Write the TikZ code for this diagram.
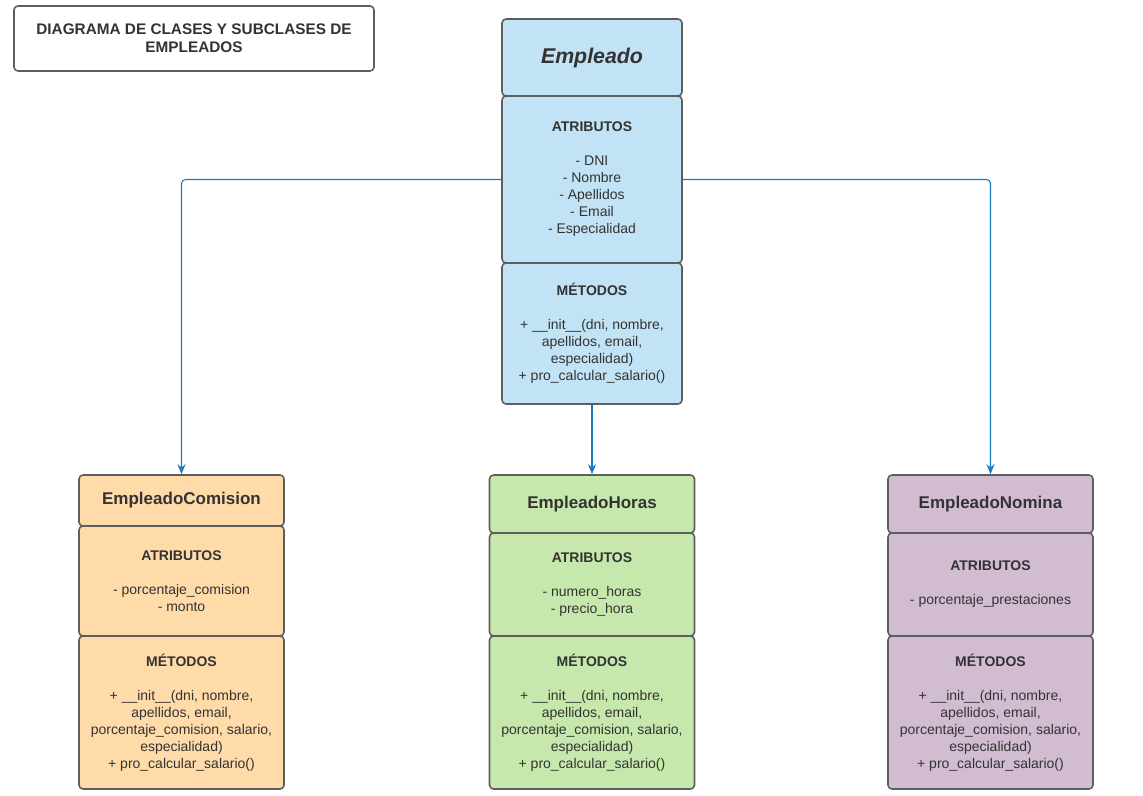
\documentclass[tikz,border=0pt]{standalone}
\usepackage{fontspec}
\setmainfont{Liberation Sans}
\usetikzlibrary{arrows.meta}
\definecolor{azul}{HTML}{C2E3F5}
\definecolor{naranja}{HTML}{FFDBA9}
\definecolor{verde}{HTML}{C7E8AC}
\definecolor{morado}{HTML}{D1BCD2}
\definecolor{borde}{HTML}{5E5E5E}
\definecolor{flecha}{HTML}{1A7BC0}
\definecolor{texto}{HTML}{333333}
\begin{document}
\begin{tikzpicture}[x=0.75pt,y=-0.75pt,line join=round,
    caja/.style={draw=borde,line width=1.2pt,rounded corners=3pt,align=center,inner sep=2pt,text=texto,font=\fontsize{10.5}{12.75}\selectfont},
    cabeza/.style={caja,font=\fontsize{12.75}{15}\selectfont\bfseries},
    enlace/.style={draw=flecha,line width=0.8pt,rounded corners=3pt,-{Stealth[length=7.5pt,width=6pt]}}]
    % marco
    \useasboundingbox[fill=white] (0,0) rectangle (1143,796);
    % titulo
    \node[caja,fill=white,minimum width=270pt,minimum height=48.75pt,font=\fontsize{11.5}{13.5}\selectfont\bfseries] (titulo) at (194,38.5) {DIAGRAMA DE CLASES Y SUBCLASES DE\\EMPLEADOS};
    % clase padre
    \node[cabeza,fill=azul,minimum width=135pt,minimum height=57.75pt,font=\fontsize{16}{19}\selectfont\bfseries\itshape] (emp) at (592,57.5) {Empleado};
    \node[caja,fill=azul,minimum width=135pt,minimum height=125.25pt] (emp-atr) at (592,179.5) {\textbf{ATRIBUTOS}\\[12.75pt]- DNI\\- Nombre\\- Apellidos\\- Email\\- Especialidad};
    \node[caja,fill=azul,minimum width=135pt,minimum height=105.75pt] (emp-met) at (592,333.5) {\textbf{MÉTODOS}\\[12.75pt]+ \_\_init\_\_(dni, nombre,\\apellidos, email,\\especialidad)\\+ pro\_calcular\_salario()};
    % subclase comision
    \node[cabeza,fill=naranja,minimum width=153.75pt,minimum height=38.25pt] (com) at (181.5,500.5) {EmpleadoComision};
    \node[caja,fill=naranja,minimum width=153.75pt,minimum height=82.5pt] (com-atr) at (181.5,581) {\textbf{ATRIBUTOS}\\[12.75pt]- porcentaje\_comision\\- monto};
    \node[caja,fill=naranja,minimum width=153.75pt,minimum height=114.75pt] (com-met) at (181.5,712.5) {\textbf{MÉTODOS}\\[12.75pt]+ \_\_init\_\_(dni, nombre,\\apellidos, email,\\porcentaje\_comision, salario,\\especialidad)\\+ pro\_calcular\_salario()};
    % subclase horas
    \node[cabeza,fill=verde,minimum width=153.75pt,minimum height=43.5pt] (hor) at (592,504) {EmpleadoHoras};
    \node[caja,fill=verde,minimum width=153.75pt,minimum height=77.25pt] (hor-atr) at (592,584.5) {\textbf{ATRIBUTOS}\\[12.75pt]- numero\_horas\\- precio\_hora};
    \node[caja,fill=verde,minimum width=153.75pt,minimum height=114.75pt] (hor-met) at (592,712.5) {\textbf{MÉTODOS}\\[12.75pt]+ \_\_init\_\_(dni, nombre,\\apellidos, email,\\porcentaje\_comision, salario,\\especialidad)\\+ pro\_calcular\_salario()};
    % subclase nomina
    \node[cabeza,fill=morado,minimum width=153.75pt,minimum height=43.5pt] (nom) at (990.5,504) {EmpleadoNomina};
    \node[caja,fill=morado,minimum width=153.75pt,minimum height=77.25pt] (nom-atr) at (990.5,584.5) {\textbf{ATRIBUTOS}\\[12.75pt]- porcentaje\_prestaciones};
    \node[caja,fill=morado,minimum width=153.75pt,minimum height=114.75pt] (nom-met) at (990.5,712.5) {\textbf{MÉTODOS}\\[12.75pt]+ \_\_init\_\_(dni, nombre,\\apellidos, email,\\porcentaje\_comision, salario,\\especialidad)\\+ pro\_calcular\_salario()};
    % herencia
    \draw[enlace] (emp-atr.west) -| (com.north);
    \draw[enlace] (emp-met.south) -- (hor.north);
    \draw[enlace] (emp-atr.east) -| (nom.north);
\end{tikzpicture}
\end{document}
